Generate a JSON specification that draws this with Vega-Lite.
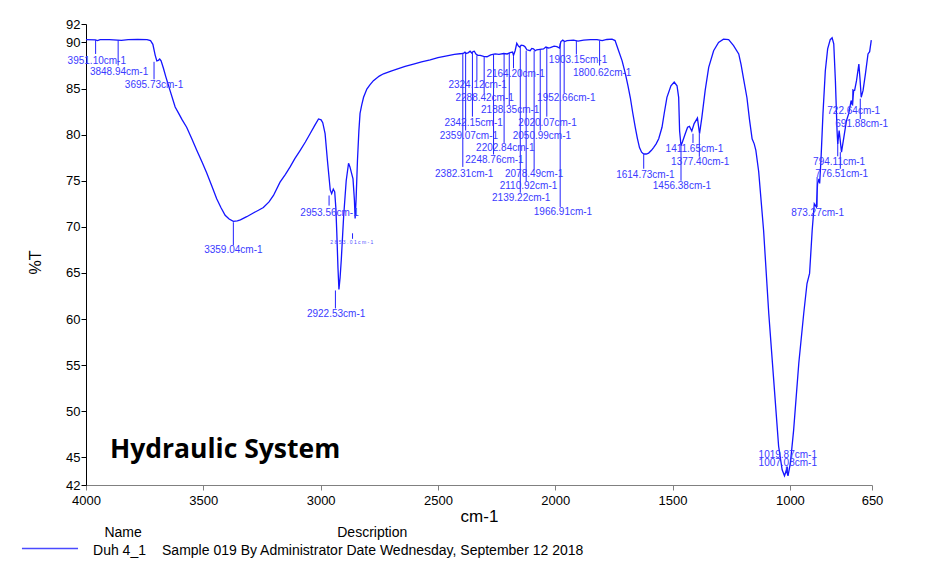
{
  "$schema": "https://vega.github.io/schema/vega-lite/v6.json",
  "width": 786,
  "height": 461,
  "autosize": {"type": "none"},
  "padding": {"left": 86, "top": 24, "right": 71, "bottom": 79},
  "background": "white",
  "config": {"view": {"stroke": null}, "font": "Liberation Sans"},
  "datasets": {
    "spectrum": [
      {"wn": 4000, "T": 90.3}, {"wn": 3960, "T": 90.28}, {"wn": 3951, "T": 90.2}, {"wn": 3940, "T": 90.3},
      {"wn": 3900, "T": 90.3}, {"wn": 3849, "T": 90.22}, {"wn": 3820, "T": 90.3}, {"wn": 3780, "T": 90.32},
      {"wn": 3740, "T": 90.3}, {"wn": 3725, "T": 90.2}, {"wn": 3715, "T": 89.8}, {"wn": 3705, "T": 88.6},
      {"wn": 3698, "T": 88.0}, {"wn": 3692, "T": 88.05}, {"wn": 3686, "T": 88.2}, {"wn": 3680, "T": 88.0},
      {"wn": 3670, "T": 87.2}, {"wn": 3660, "T": 86.3}, {"wn": 3642, "T": 84.8}, {"wn": 3620, "T": 83.0},
      {"wn": 3605, "T": 82.3}, {"wn": 3590, "T": 81.6}, {"wn": 3571, "T": 80.8}, {"wn": 3550, "T": 79.6},
      {"wn": 3528, "T": 78.3}, {"wn": 3505, "T": 77.0}, {"wn": 3485, "T": 75.8}, {"wn": 3465, "T": 74.5},
      {"wn": 3443, "T": 73.05}, {"wn": 3425, "T": 72.1}, {"wn": 3407, "T": 71.25}, {"wn": 3390, "T": 70.85},
      {"wn": 3372, "T": 70.6}, {"wn": 3355, "T": 70.65}, {"wn": 3342, "T": 70.75}, {"wn": 3315, "T": 71.1},
      {"wn": 3287, "T": 71.5}, {"wn": 3265, "T": 71.8}, {"wn": 3244, "T": 72.1}, {"wn": 3220, "T": 72.7},
      {"wn": 3201, "T": 73.4}, {"wn": 3173, "T": 74.85}, {"wn": 3150, "T": 75.7}, {"wn": 3130, "T": 76.5},
      {"wn": 3110, "T": 77.4}, {"wn": 3087, "T": 78.3}, {"wn": 3065, "T": 79.2}, {"wn": 3045, "T": 80.1},
      {"wn": 3025, "T": 81.0}, {"wn": 3009, "T": 81.7}, {"wn": 2998, "T": 81.6}, {"wn": 2991, "T": 81.3},
      {"wn": 2981, "T": 80.1}, {"wn": 2971, "T": 77.2}, {"wn": 2959, "T": 74.0}, {"wn": 2953, "T": 73.6},
      {"wn": 2946, "T": 74.1}, {"wn": 2940, "T": 73.8}, {"wn": 2935, "T": 72.0}, {"wn": 2931, "T": 69.3},
      {"wn": 2926, "T": 65.5}, {"wn": 2922, "T": 63.2}, {"wn": 2917, "T": 64.5}, {"wn": 2912, "T": 66.4},
      {"wn": 2902, "T": 71.1}, {"wn": 2891, "T": 75.0}, {"wn": 2881, "T": 76.9}, {"wn": 2875, "T": 76.5},
      {"wn": 2868, "T": 75.8}, {"wn": 2862, "T": 75.2}, {"wn": 2856, "T": 72.9}, {"wn": 2853, "T": 70.9},
      {"wn": 2849, "T": 72.9}, {"wn": 2843, "T": 77.2}, {"wn": 2837, "T": 80.4}, {"wn": 2832, "T": 82.3},
      {"wn": 2825, "T": 83.2}, {"wn": 2817, "T": 84.05}, {"wn": 2803, "T": 84.95}, {"wn": 2790, "T": 85.4},
      {"wn": 2775, "T": 85.85}, {"wn": 2750, "T": 86.35}, {"wn": 2732, "T": 86.6}, {"wn": 2700, "T": 86.9},
      {"wn": 2675, "T": 87.1}, {"wn": 2640, "T": 87.4}, {"wn": 2604, "T": 87.65}, {"wn": 2570, "T": 87.9},
      {"wn": 2533, "T": 88.1}, {"wn": 2500, "T": 88.35}, {"wn": 2462, "T": 88.55}, {"wn": 2430, "T": 88.7},
      {"wn": 2398, "T": 88.8}, {"wn": 2390, "T": 88.85}, {"wn": 2385, "T": 88.95}, {"wn": 2380, "T": 88.8},
      {"wn": 2370, "T": 88.9}, {"wn": 2363, "T": 89.05}, {"wn": 2356, "T": 88.85}, {"wn": 2350, "T": 89.0},
      {"wn": 2345, "T": 89.05}, {"wn": 2338, "T": 88.75}, {"wn": 2330, "T": 88.6}, {"wn": 2320, "T": 88.6},
      {"wn": 2305, "T": 88.5}, {"wn": 2291, "T": 88.45}, {"wn": 2275, "T": 88.65}, {"wn": 2256, "T": 88.75},
      {"wn": 2240, "T": 88.7}, {"wn": 2220, "T": 88.8}, {"wn": 2205, "T": 88.75}, {"wn": 2192, "T": 88.9},
      {"wn": 2182, "T": 88.95}, {"wn": 2178, "T": 88.6}, {"wn": 2171, "T": 89.1}, {"wn": 2164, "T": 89.9},
      {"wn": 2157, "T": 89.6}, {"wn": 2152, "T": 89.5}, {"wn": 2145, "T": 89.7}, {"wn": 2135, "T": 89.65},
      {"wn": 2128, "T": 89.5}, {"wn": 2121, "T": 89.2}, {"wn": 2107, "T": 89.1}, {"wn": 2100, "T": 89.35},
      {"wn": 2093, "T": 89.3}, {"wn": 2085, "T": 89.1}, {"wn": 2079, "T": 89.2}, {"wn": 2065, "T": 89.25},
      {"wn": 2050, "T": 89.3}, {"wn": 2040, "T": 89.5}, {"wn": 2030, "T": 89.4}, {"wn": 2021, "T": 89.45},
      {"wn": 2005, "T": 89.6}, {"wn": 1993, "T": 89.55}, {"wn": 1982, "T": 89.4}, {"wn": 1976, "T": 90.1},
      {"wn": 1968, "T": 90.25}, {"wn": 1960, "T": 90.1}, {"wn": 1950, "T": 90.2}, {"wn": 1922, "T": 90.25},
      {"wn": 1903, "T": 90.15}, {"wn": 1879, "T": 90.25}, {"wn": 1850, "T": 90.3}, {"wn": 1822, "T": 90.3},
      {"wn": 1800, "T": 90.2}, {"wn": 1780, "T": 90.32}, {"wn": 1758, "T": 90.35}, {"wn": 1745, "T": 90.2},
      {"wn": 1730, "T": 89.1}, {"wn": 1715, "T": 88.0}, {"wn": 1701, "T": 86.6}, {"wn": 1690, "T": 85.3},
      {"wn": 1680, "T": 84.0}, {"wn": 1670, "T": 82.4}, {"wn": 1659, "T": 80.8}, {"wn": 1650, "T": 79.6},
      {"wn": 1641, "T": 78.6}, {"wn": 1632, "T": 78.1}, {"wn": 1623, "T": 77.9}, {"wn": 1612, "T": 77.9},
      {"wn": 1602, "T": 78.0}, {"wn": 1590, "T": 78.3}, {"wn": 1581, "T": 78.6}, {"wn": 1570, "T": 79.0},
      {"wn": 1559, "T": 79.55}, {"wn": 1545, "T": 80.8}, {"wn": 1535, "T": 82.4}, {"wn": 1524, "T": 84.05},
      {"wn": 1507, "T": 85.3}, {"wn": 1493, "T": 85.7}, {"wn": 1481, "T": 85.3}, {"wn": 1474, "T": 84.05},
      {"wn": 1470, "T": 80.4}, {"wn": 1464, "T": 78.8}, {"wn": 1458, "T": 79.2}, {"wn": 1446, "T": 80.1},
      {"wn": 1436, "T": 80.8}, {"wn": 1428, "T": 80.9}, {"wn": 1418, "T": 80.4}, {"wn": 1408, "T": 81.2},
      {"wn": 1394, "T": 81.8}, {"wn": 1385, "T": 80.1}, {"wn": 1375, "T": 81.9}, {"wn": 1361, "T": 84.8},
      {"wn": 1346, "T": 87.3}, {"wn": 1325, "T": 89.1}, {"wn": 1304, "T": 90.0}, {"wn": 1283, "T": 90.35},
      {"wn": 1261, "T": 90.3}, {"wn": 1240, "T": 89.65}, {"wn": 1218, "T": 88.75}, {"wn": 1208, "T": 87.6},
      {"wn": 1197, "T": 86.0}, {"wn": 1183, "T": 84.0}, {"wn": 1172, "T": 81.6}, {"wn": 1161, "T": 79.55},
      {"wn": 1152, "T": 79.0}, {"wn": 1145, "T": 78.3}, {"wn": 1133, "T": 76.0}, {"wn": 1112, "T": 69.6},
      {"wn": 1090, "T": 60.6}, {"wn": 1069, "T": 53.4}, {"wn": 1048, "T": 46.2}, {"wn": 1033, "T": 43.65},
      {"wn": 1023, "T": 43.0}, {"wn": 1015, "T": 43.6}, {"wn": 1008, "T": 43.0}, {"wn": 998, "T": 44.35},
      {"wn": 984, "T": 47.95}, {"wn": 962, "T": 55.2}, {"wn": 941, "T": 60.6}, {"wn": 927, "T": 63.85},
      {"wn": 916, "T": 64.95}, {"wn": 905, "T": 69.6}, {"wn": 896, "T": 72.5}, {"wn": 887, "T": 72.15},
      {"wn": 882, "T": 74.7}, {"wn": 876, "T": 75.2}, {"wn": 873, "T": 74.7}, {"wn": 867, "T": 77.55},
      {"wn": 859, "T": 82.25}, {"wn": 849, "T": 86.9}, {"wn": 839, "T": 89.3}, {"wn": 828, "T": 90.3},
      {"wn": 820, "T": 90.5}, {"wn": 813, "T": 89.85}, {"wn": 806, "T": 85.85}, {"wn": 799, "T": 80.45},
      {"wn": 796, "T": 79.0}, {"wn": 790, "T": 80.45}, {"wn": 780, "T": 78.1}, {"wn": 770, "T": 79.7},
      {"wn": 759, "T": 81.5}, {"wn": 749, "T": 82.3}, {"wn": 739, "T": 83.7}, {"wn": 734, "T": 83.2},
      {"wn": 728, "T": 84.8}, {"wn": 724, "T": 84.8}, {"wn": 716, "T": 85.85}, {"wn": 706, "T": 87.65},
      {"wn": 701, "T": 86.0}, {"wn": 696, "T": 84.05}, {"wn": 688, "T": 84.8}, {"wn": 678, "T": 86.6},
      {"wn": 667, "T": 88.75}, {"wn": 660, "T": 89.0}, {"wn": 653, "T": 90.25}
    ],
    "peaks": [
      {"label": "3951.10cm-1", "wn": 3954, "T": 88.0, "rx": 3959, "top": 90.25, "bot": 88.75},
      {"label": "3848.94cm-1", "wn": 3859, "T": 86.8, "rx": 3863, "top": 90.25, "bot": 87.5},
      {"label": "3695.73cm-1", "wn": 3710, "T": 85.4, "rx": 3710, "top": 87.9, "bot": 86.0},
      {"label": "3359.04cm-1", "wn": 3372, "T": 67.45, "rx": 3372, "top": 70.5, "bot": 68.0},
      {"label": "2953.56cm-1", "wn": 2962, "T": 71.5, "rx": 2964, "top": 73.4, "bot": 72.3},
      {"label": "2922.53cm-1", "wn": 2934, "T": 60.5, "rx": 2937, "top": 63.1, "bot": 61.15},
      {"label": "2382.31cm-1", "wn": 2388, "T": 75.75, "rx": 2394, "top": 88.8, "bot": 76.5},
      {"label": "2359.07cm-1", "wn": 2368, "T": 79.8, "rx": 2382, "top": 88.9, "bot": 80.45},
      {"label": "2342.15cm-1", "wn": 2348, "T": 81.3, "rx": 2353, "top": 88.9, "bot": 81.95},
      {"label": "2324.12cm-1", "wn": 2331, "T": 85.4, "rx": 2334, "top": 88.6, "bot": 85.9},
      {"label": "2288.42cm-1", "wn": 2301, "T": 83.95, "rx": 2303, "top": 88.45, "bot": 84.5},
      {"label": "2248.76cm-1", "wn": 2259, "T": 77.2, "rx": 2263, "top": 88.7, "bot": 77.85},
      {"label": "2202.84cm-1", "wn": 2213, "T": 78.5, "rx": 2218, "top": 88.75, "bot": 79.1},
      {"label": "2188.35cm-1", "wn": 2192, "T": 82.7, "rx": 2196, "top": 88.85, "bot": 83.2},
      {"label": "2164.20cm-1", "wn": 2169, "T": 86.6, "rx": 2178, "top": 88.5, "bot": 87.2},
      {"label": "2139.22cm-1", "wn": 2145, "T": 73.1, "rx": 2149, "top": 89.5, "bot": 73.7},
      {"label": "2110.92cm-1", "wn": 2114, "T": 74.4, "rx": 2124, "top": 89.1, "bot": 74.95},
      {"label": "2078.49cm-1", "wn": 2090, "T": 75.75, "rx": 2090, "top": 89.1, "bot": 76.2},
      {"label": "2050.99cm-1", "wn": 2057, "T": 79.8, "rx": 2064, "top": 89.2, "bot": 80.45},
      {"label": "2020.07cm-1", "wn": 2033, "T": 81.3, "rx": 2036, "top": 89.4, "bot": 81.95},
      {"label": "1966.91cm-1", "wn": 1967, "T": 71.6, "rx": 1979, "top": 89.9, "bot": 72.15},
      {"label": "1952.66cm-1", "wn": 1953, "T": 83.95, "rx": 1962, "top": 90.1, "bot": 84.5},
      {"label": "1903.15cm-1", "wn": 1903, "T": 88.1, "rx": 1910, "top": 90.15, "bot": 88.7},
      {"label": "1800.62cm-1", "wn": 1800, "T": 86.7, "rx": 1811, "top": 90.2, "bot": 87.5},
      {"label": "1614.73cm-1", "wn": 1616, "T": 75.65, "rx": 1623, "top": 77.85, "bot": 76.3},
      {"label": "1456.38cm-1", "wn": 1460, "T": 74.4, "rx": 1464, "top": 78.8, "bot": 75.0},
      {"label": "1411.65cm-1", "wn": 1407, "T": 78.45, "rx": 1413, "top": 80.1, "bot": 79.1},
      {"label": "1377.40cm-1", "wn": 1382, "T": 77.0, "rx": 1386, "top": 80.1, "bot": 77.6},
      {"label": "873.27cm-1", "wn": 882, "T": 71.5, "rx": 884, "top": 75.4, "bot": 72.15},
      {"label": "794.11cm-1", "wn": 790, "T": 77.0, "rx": 796, "top": 79.2, "bot": 77.65},
      {"label": "776.51cm-1", "wn": 779, "T": 75.7, "rx": 785, "top": 78.1, "bot": 76.3},
      {"label": "722.64cm-1", "wn": 728, "T": 82.6, "rx": 732, "top": 84.95, "bot": 83.15},
      {"label": "691.88cm-1", "wn": 694, "T": 81.15, "rx": 700, "top": 83.9, "bot": 81.7},
      {"label": "1019.87cm-1", "wn": 1009, "T": 45.3, "rx": 1015, "top": 44.0, "bot": 43.3},
      {"label": "1007.08cm-1", "wn": 1009, "T": 44.4, "rx": 1010, "top": 44.0, "bot": 43.3}
    ],
    "tiny": [
      {"label": "2 8 5 3 . 0 1 c m - 1", "wn": 2867, "T": 68.4, "rx": 2864, "top": 69.3, "bot": 68.7}
    ],
    "heading": [
      {"text": "Hydraulic System", "wn": 3898, "T": 44.95}
    ],
    "legendHead": [
      {"text": "Name", "wn": 3842, "T": 36.4},
      {"text": "Description", "wn": 2780, "T": 36.4}
    ],
    "legendRow": [
      {"text": "Duh 4_1", "wn": 3970, "T": 34.45},
      {"text": "Sample 019 By Administrator Date Wednesday, September 12 2018", "wn": 3676, "T": 34.45}
    ],
    "legendLine": [
      {"wn": 4273, "wn2": 4034, "T": 35.1}
    ]
  },
  "encoding": {
    "x": {
      "field": "wn", "type": "quantitative",
      "scale": {"domain": [650, 4000], "reverse": true, "nice": false, "zero": false},
      "axis": {
        "values": [4000, 3500, 3000, 2500, 2000, 1500, 1000, 650],
        "format": "d", "grid": false, "labelFlush": false, "labelOverlap": false,
        "labelFontSize": 13, "labelColor": "#000000", "labelPadding": 4,
        "domainColor": "#808080", "tickColor": "#808080", "tickSize": 5,
        "title": "cm-1", "titleFontSize": 17, "titleFontWeight": "normal", "titleColor": "#000000", "titlePadding": 1
      }
    },
    "y": {
      "field": "T", "type": "quantitative",
      "scale": {"domain": [42, 92], "nice": false, "zero": false},
      "axis": {
        "values": [42, 45, 50, 55, 60, 65, 70, 75, 80, 85, 90, 92],
        "grid": false, "labelOverlap": false, "labelFlush": false,
        "labelFontSize": 13, "labelColor": "#000000", "labelPadding": 1,
        "domainColor": "#000000", "tickColor": "#000000", "tickSize": 5,
        "title": "%T", "titleFontSize": 16, "titleFontWeight": "normal", "titleColor": "#000000",
        "titleX": -51, "titleY": 238, "titleAlign": "center", "titleBaseline": "middle", "titleAngle": -90
      }
    }
  },
  "layer": [
    {
      "data": {"name": "spectrum"},
      "mark": {"type": "line", "color": "#1414ff", "strokeWidth": 1.3, "interpolate": "linear"},
      "encoding": {"order": {"field": "wn", "type": "quantitative", "sort": "descending"}}
    },
    {
      "data": {"name": "peaks"},
      "mark": {"type": "rule", "color": "#2020ff", "strokeWidth": 1},
      "encoding": {
        "x": {"field": "rx", "type": "quantitative"},
        "y": {"field": "top", "type": "quantitative"},
        "y2": {"field": "bot"}
      }
    },
    {
      "data": {"name": "peaks"},
      "mark": {"type": "text", "color": "#3a3aff", "fontSize": 10, "font": "Liberation Sans", "align": "center", "baseline": "middle"},
      "encoding": {"text": {"field": "label"}}
    },
    {
      "data": {"name": "tiny"},
      "mark": {"type": "rule", "color": "#2020ff", "strokeWidth": 1},
      "encoding": {
        "x": {"field": "rx", "type": "quantitative"},
        "y": {"field": "top", "type": "quantitative"},
        "y2": {"field": "bot"}
      }
    },
    {
      "data": {"name": "tiny"},
      "mark": {"type": "text", "color": "#5050ff", "fontSize": 5, "font": "Liberation Sans", "align": "center", "baseline": "middle"},
      "encoding": {"text": {"field": "label"}}
    },
    {
      "data": {"name": "heading"},
      "mark": {"type": "text", "color": "#000000", "fontSize": 26.5, "font": "Open Sans", "fontWeight": "bold", "align": "left", "baseline": "alphabetic"},
      "encoding": {"text": {"field": "text"}}
    },
    {
      "data": {"name": "legendHead"},
      "mark": {"type": "text", "color": "#000000", "fontSize": 14, "font": "Liberation Sans", "align": "center", "baseline": "alphabetic"},
      "encoding": {"text": {"field": "text"}}
    },
    {
      "data": {"name": "legendRow"},
      "mark": {"type": "text", "color": "#000000", "fontSize": 14, "font": "Liberation Sans", "align": "left", "baseline": "alphabetic"},
      "encoding": {"text": {"field": "text"}}
    },
    {
      "data": {"name": "legendLine"},
      "mark": {"type": "rule", "color": "#4a4aff", "strokeWidth": 1.5},
      "encoding": {"x2": {"field": "wn2"}}
    }
  ]
}
